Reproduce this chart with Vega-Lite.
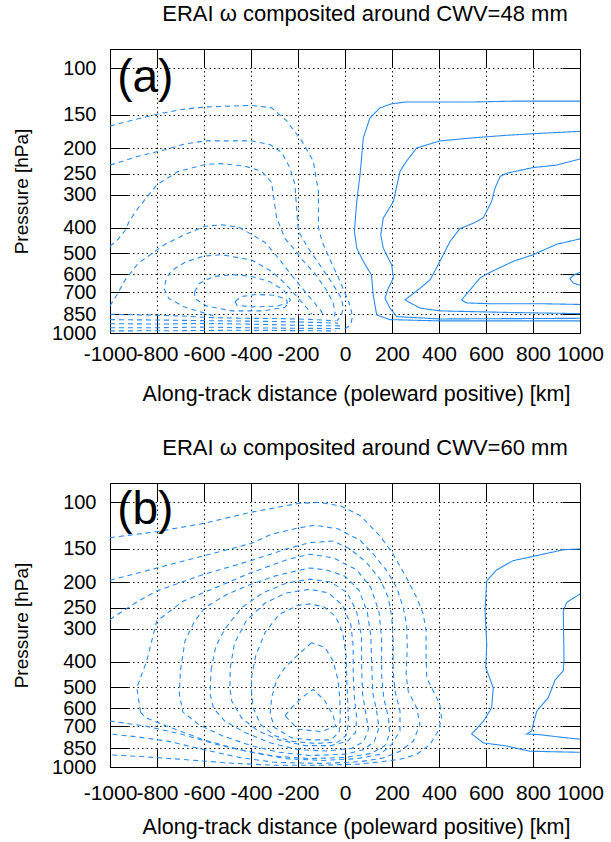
{
"$schema":"https://vega.github.io/schema/vega-lite/v6.json",
"background":"white",
"padding":{"left":12,"top":2,"right":5,"bottom":2},
"config":{"font":"Liberation Sans","view":{"stroke":"#000","strokeWidth":1},"title":{"fontSize":22,"fontWeight":"normal","color":"#000"}},
"bounds":"flush",
"spacing":150,
"datasets":{
"a":[
{"c":"A1","s":"n","x":-1000,"p":165},{"c":"A1","s":"n","x":-880,"p":155},{"c":"A1","s":"n","x":-800,"p":149},{"c":"A1","s":"n","x":-695,"p":143},{"c":"A1","s":"n","x":-600,"p":140},{"c":"A1","s":"n","x":-400,"p":138},{"c":"A1","s":"n","x":-312,"p":141},{"c":"A1","s":"n","x":-248,"p":158},{"c":"A1","s":"n","x":-184,"p":188},{"c":"A1","s":"n","x":-135,"p":224},{"c":"A1","s":"n","x":-113,"p":292},{"c":"A1","s":"n","x":-113,"p":400},{"c":"A1","s":"n","x":-98,"p":450},{"c":"A1","s":"n","x":-64,"p":528},{"c":"A1","s":"n","x":-30,"p":612},{"c":"A1","s":"n","x":-5,"p":690},{"c":"A1","s":"n","x":15,"p":760},{"c":"A1","s":"n","x":28,"p":830},{"c":"A1","s":"n","x":30,"p":880},{"c":"A1","s":"n","x":25,"p":925},{"c":"A1","s":"n","x":8,"p":955},{"c":"A1","s":"n","x":-10,"p":970},
{"c":"A2","s":"n","x":-1000,"p":232},{"c":"A2","s":"n","x":-880,"p":215},{"c":"A2","s":"n","x":-766,"p":203},{"c":"A2","s":"n","x":-681,"p":193},{"c":"A2","s":"n","x":-596,"p":188},{"c":"A2","s":"n","x":-397,"p":188},{"c":"A2","s":"n","x":-319,"p":194},{"c":"A2","s":"n","x":-269,"p":208},{"c":"A2","s":"n","x":-234,"p":238},{"c":"A2","s":"n","x":-213,"p":275},{"c":"A2","s":"n","x":-206,"p":338},{"c":"A2","s":"n","x":-199,"p":410},{"c":"A2","s":"n","x":-165,"p":465},{"c":"A2","s":"n","x":-106,"p":555},{"c":"A2","s":"n","x":-51,"p":655},{"c":"A2","s":"n","x":-15,"p":740},{"c":"A2","s":"n","x":-8,"p":800},{"c":"A2","s":"n","x":-15,"p":860},{"c":"A2","s":"n","x":-35,"p":900},
{"c":"A3","s":"n","x":-1000,"p":470},{"c":"A3","s":"n","x":-966,"p":443},{"c":"A3","s":"n","x":-936,"p":410},{"c":"A3","s":"n","x":-915,"p":374},{"c":"A3","s":"n","x":-880,"p":337},{"c":"A3","s":"n","x":-800,"p":275},{"c":"A3","s":"n","x":-709,"p":245},{"c":"A3","s":"n","x":-596,"p":231},{"c":"A3","s":"n","x":-532,"p":229},{"c":"A3","s":"n","x":-426,"p":234},{"c":"A3","s":"n","x":-354,"p":245},{"c":"A3","s":"n","x":-312,"p":270},{"c":"A3","s":"n","x":-302,"p":314},{"c":"A3","s":"n","x":-291,"p":367},{"c":"A3","s":"n","x":-269,"p":410},{"c":"A3","s":"n","x":-255,"p":440},{"c":"A3","s":"n","x":-226,"p":470},{"c":"A3","s":"n","x":-183,"p":528},{"c":"A3","s":"n","x":-128,"p":596},{"c":"A3","s":"n","x":-80,"p":685},{"c":"A3","s":"n","x":-50,"p":770},{"c":"A3","s":"n","x":-42,"p":850},{"c":"A3","s":"n","x":-55,"p":895},
{"c":"A4","s":"n","x":-1000,"p":790},{"c":"A4","s":"n","x":-971,"p":718},{"c":"A4","s":"n","x":-936,"p":631},{"c":"A4","s":"n","x":-880,"p":545},{"c":"A4","s":"n","x":-766,"p":462},{"c":"A4","s":"n","x":-681,"p":424},{"c":"A4","s":"n","x":-596,"p":395},{"c":"A4","s":"n","x":-525,"p":390},{"c":"A4","s":"n","x":-454,"p":398},{"c":"A4","s":"n","x":-397,"p":424},{"c":"A4","s":"n","x":-340,"p":455},{"c":"A4","s":"n","x":-284,"p":520},{"c":"A4","s":"n","x":-227,"p":605},{"c":"A4","s":"n","x":-170,"p":698},{"c":"A4","s":"n","x":-130,"p":770},{"c":"A4","s":"n","x":-100,"p":830},{"c":"A4","s":"n","x":-90,"p":870},
{"c":"A5","s":"n","x":-560,"p":860},{"c":"A5","s":"n","x":-680,"p":800},{"c":"A5","s":"n","x":-750,"p":740},{"c":"A5","s":"n","x":-770,"p":680},{"c":"A5","s":"n","x":-760,"p":620},{"c":"A5","s":"n","x":-737,"p":580},{"c":"A5","s":"n","x":-681,"p":540},{"c":"A5","s":"n","x":-600,"p":512},{"c":"A5","s":"n","x":-525,"p":506},{"c":"A5","s":"n","x":-397,"p":530},{"c":"A5","s":"n","x":-312,"p":585},{"c":"A5","s":"n","x":-255,"p":650},{"c":"A5","s":"n","x":-210,"p":720},{"c":"A5","s":"n","x":-170,"p":790},{"c":"A5","s":"n","x":-140,"p":850},
{"c":"A6","s":"n","x":-640,"p":700},{"c":"A6","s":"n","x":-620,"p":650},{"c":"A6","s":"n","x":-560,"p":612},{"c":"A6","s":"n","x":-480,"p":602},{"c":"A6","s":"n","x":-400,"p":610},{"c":"A6","s":"n","x":-320,"p":640},{"c":"A6","s":"n","x":-260,"p":690},{"c":"A6","s":"n","x":-232,"p":750},{"c":"A6","s":"n","x":-255,"p":800},{"c":"A6","s":"n","x":-350,"p":825},{"c":"A6","s":"n","x":-480,"p":825},{"c":"A6","s":"n","x":-590,"p":790},{"c":"A6","s":"n","x":-640,"p":740},{"c":"A6","s":"n","x":-640,"p":700},
{"c":"A7","s":"n","x":-468,"p":760},{"c":"A7","s":"n","x":-440,"p":728},{"c":"A7","s":"n","x":-380,"p":715},{"c":"A7","s":"n","x":-300,"p":720},{"c":"A7","s":"n","x":-250,"p":745},{"c":"A7","s":"n","x":-245,"p":770},{"c":"A7","s":"n","x":-290,"p":792},{"c":"A7","s":"n","x":-400,"p":797},{"c":"A7","s":"n","x":-460,"p":785},{"c":"A7","s":"n","x":-468,"p":760},
{"c":"B1","s":"n","x":-1000,"p":850},{"c":"B1","s":"n","x":-850,"p":855},{"c":"B1","s":"n","x":-700,"p":862},{"c":"B1","s":"n","x":-560,"p":875},{"c":"B1","s":"n","x":-420,"p":880},{"c":"B1","s":"n","x":-280,"p":882},{"c":"B1","s":"n","x":-150,"p":888},{"c":"B1","s":"n","x":-40,"p":900},
{"c":"B2","s":"n","x":-1000,"p":890},{"c":"B2","s":"n","x":-800,"p":893},{"c":"B2","s":"n","x":-600,"p":898},{"c":"B2","s":"n","x":-400,"p":902},{"c":"B2","s":"n","x":-200,"p":908},{"c":"B2","s":"n","x":-30,"p":918},
{"c":"B3","s":"n","x":-1000,"p":922},{"c":"B3","s":"n","x":-800,"p":925},{"c":"B3","s":"n","x":-600,"p":920},{"c":"B3","s":"n","x":-400,"p":926},{"c":"B3","s":"n","x":-200,"p":935},{"c":"B3","s":"n","x":-20,"p":940},
{"c":"B4","s":"n","x":-1000,"p":955},{"c":"B4","s":"n","x":-800,"p":955},{"c":"B4","s":"n","x":-600,"p":950},{"c":"B4","s":"n","x":-400,"p":956},{"c":"B4","s":"n","x":-200,"p":960},{"c":"B4","s":"n","x":-20,"p":962},
{"c":"B5","s":"n","x":-1000,"p":982},{"c":"B5","s":"n","x":-700,"p":980},{"c":"B5","s":"n","x":-450,"p":976},{"c":"B5","s":"n","x":-250,"p":979},{"c":"B5","s":"n","x":-40,"p":982},
{"c":"S1","s":"p","x":1000,"p":133},{"c":"S1","s":"p","x":830,"p":133},{"c":"S1","s":"p","x":716,"p":133},{"c":"S1","s":"p","x":546,"p":134},{"c":"S1","s":"p","x":404,"p":134},{"c":"S1","s":"p","x":262,"p":134},{"c":"S1","s":"p","x":199,"p":136},{"c":"S1","s":"p","x":149,"p":141},{"c":"S1","s":"p","x":106,"p":154},{"c":"S1","s":"p","x":78,"p":183},{"c":"S1","s":"p","x":64,"p":252},{"c":"S1","s":"p","x":50,"p":318},{"c":"S1","s":"p","x":40,"p":413},{"c":"S1","s":"p","x":50,"p":478},{"c":"S1","s":"p","x":78,"p":536},{"c":"S1","s":"p","x":113,"p":605},{"c":"S1","s":"p","x":120,"p":718},{"c":"S1","s":"p","x":135,"p":855},{"c":"S1","s":"p","x":191,"p":890},{"c":"S1","s":"p","x":404,"p":900},{"c":"S1","s":"p","x":1000,"p":900},
{"c":"S2","s":"p","x":1000,"p":173},{"c":"S2","s":"p","x":830,"p":176},{"c":"S2","s":"p","x":688,"p":179},{"c":"S2","s":"p","x":546,"p":183},{"c":"S2","s":"p","x":404,"p":188},{"c":"S2","s":"p","x":305,"p":200},{"c":"S2","s":"p","x":262,"p":224},{"c":"S2","s":"p","x":234,"p":245},{"c":"S2","s":"p","x":206,"p":318},{"c":"S2","s":"p","x":163,"p":368},{"c":"S2","s":"p","x":152,"p":425},{"c":"S2","s":"p","x":163,"p":478},{"c":"S2","s":"p","x":199,"p":555},{"c":"S2","s":"p","x":206,"p":620},{"c":"S2","s":"p","x":184,"p":678},{"c":"S2","s":"p","x":170,"p":738},{"c":"S2","s":"p","x":191,"p":805},{"c":"S2","s":"p","x":220,"p":867},{"c":"S2","s":"p","x":404,"p":885},{"c":"S2","s":"p","x":1000,"p":880},
{"c":"S3","s":"p","x":1000,"p":220},{"c":"S3","s":"p","x":901,"p":232},{"c":"S3","s":"p","x":801,"p":237},{"c":"S3","s":"p","x":688,"p":249},{"c":"S3","s":"p","x":660,"p":256},{"c":"S3","s":"p","x":638,"p":284},{"c":"S3","s":"p","x":624,"p":318},{"c":"S3","s":"p","x":589,"p":367},{"c":"S3","s":"p","x":546,"p":385},{"c":"S3","s":"p","x":489,"p":403},{"c":"S3","s":"p","x":447,"p":451},{"c":"S3","s":"p","x":404,"p":536},{"c":"S3","s":"p","x":362,"p":630},{"c":"S3","s":"p","x":319,"p":678},{"c":"S3","s":"p","x":255,"p":750},{"c":"S3","s":"p","x":319,"p":805},{"c":"S3","s":"p","x":404,"p":825},{"c":"S3","s":"p","x":688,"p":836},{"c":"S3","s":"p","x":1000,"p":845},
{"c":"S4","s":"p","x":1000,"p":441},{"c":"S4","s":"p","x":901,"p":462},{"c":"S4","s":"p","x":801,"p":506},{"c":"S4","s":"p","x":716,"p":536},{"c":"S4","s":"p","x":617,"p":590},{"c":"S4","s":"p","x":574,"p":620},{"c":"S4","s":"p","x":532,"p":688},{"c":"S4","s":"p","x":496,"p":750},{"c":"S4","s":"p","x":518,"p":770},{"c":"S4","s":"p","x":617,"p":775},{"c":"S4","s":"p","x":830,"p":775},{"c":"S4","s":"p","x":1000,"p":780},
{"c":"S5","s":"p","x":1000,"p":590},{"c":"S5","s":"p","x":972,"p":605},{"c":"S5","s":"p","x":957,"p":624},{"c":"S5","s":"p","x":972,"p":648},{"c":"S5","s":"p","x":1000,"p":660}
],
"b":[
{"c":"C1","s":"n","x":-1000,"p":136},{"c":"C1","s":"n","x":-800,"p":129},{"c":"C1","s":"n","x":-600,"p":120},{"c":"C1","s":"n","x":-400,"p":109},{"c":"C1","s":"n","x":-200,"p":101},{"c":"C1","s":"n","x":-115,"p":100},{"c":"C1","s":"n","x":-20,"p":103},{"c":"C1","s":"n","x":64,"p":112},{"c":"C1","s":"n","x":149,"p":134},{"c":"C1","s":"n","x":205,"p":157},{"c":"C1","s":"n","x":262,"p":193},{"c":"C1","s":"n","x":305,"p":229},{"c":"C1","s":"n","x":333,"p":264},{"c":"C1","s":"n","x":345,"p":306},{"c":"C1","s":"n","x":345,"p":386},{"c":"C1","s":"n","x":348,"p":460},{"c":"C1","s":"n","x":376,"p":517},{"c":"C1","s":"n","x":404,"p":580},{"c":"C1","s":"n","x":411,"p":653},{"c":"C1","s":"n","x":397,"p":731},{"c":"C1","s":"n","x":362,"p":821},{"c":"C1","s":"n","x":305,"p":896},{"c":"C1","s":"n","x":234,"p":935},{"c":"C1","s":"n","x":163,"p":953},{"c":"C1","s":"n","x":60,"p":975},{"c":"C1","s":"n","x":-100,"p":985},{"c":"C1","s":"n","x":-300,"p":985},{"c":"C1","s":"n","x":-500,"p":965},{"c":"C1","s":"n","x":-700,"p":935},{"c":"C1","s":"n","x":-850,"p":915},{"c":"C1","s":"n","x":-1000,"p":900},
{"c":"C2","s":"n","x":-1000,"p":197},{"c":"C2","s":"n","x":-800,"p":177},{"c":"C2","s":"n","x":-600,"p":159},{"c":"C2","s":"n","x":-400,"p":143},{"c":"C2","s":"n","x":-312,"p":132},{"c":"C2","s":"n","x":-200,"p":125},{"c":"C2","s":"n","x":-128,"p":122},{"c":"C2","s":"n","x":-28,"p":126},{"c":"C2","s":"n","x":0,"p":130},{"c":"C2","s":"n","x":64,"p":139},{"c":"C2","s":"n","x":121,"p":157},{"c":"C2","s":"n","x":177,"p":181},{"c":"C2","s":"n","x":220,"p":210},{"c":"C2","s":"n","x":248,"p":250},{"c":"C2","s":"n","x":262,"p":289},{"c":"C2","s":"n","x":265,"p":354},{"c":"C2","s":"n","x":260,"p":447},{"c":"C2","s":"n","x":269,"p":517},{"c":"C2","s":"n","x":305,"p":598},{"c":"C2","s":"n","x":319,"p":690},{"c":"C2","s":"n","x":291,"p":798},{"c":"C2","s":"n","x":234,"p":872},{"c":"C2","s":"n","x":163,"p":925},{"c":"C2","s":"n","x":64,"p":955},{"c":"C2","s":"n","x":-100,"p":970},{"c":"C2","s":"n","x":-300,"p":960},{"c":"C2","s":"n","x":-450,"p":920},{"c":"C2","s":"n","x":-600,"p":860},{"c":"C2","s":"n","x":-750,"p":800},{"c":"C2","s":"n","x":-880,"p":770},{"c":"C2","s":"n","x":-1000,"p":750},
{"c":"C3","s":"n","x":-1000,"p":277},{"c":"C3","s":"n","x":-880,"p":236},{"c":"C3","s":"n","x":-800,"p":216},{"c":"C3","s":"n","x":-600,"p":187},{"c":"C3","s":"n","x":-400,"p":166},{"c":"C3","s":"n","x":-250,"p":150},{"c":"C3","s":"n","x":-150,"p":142},{"c":"C3","s":"n","x":-50,"p":140},{"c":"C3","s":"n","x":21,"p":150},{"c":"C3","s":"n","x":92,"p":169},{"c":"C3","s":"n","x":149,"p":195},{"c":"C3","s":"n","x":184,"p":229},{"c":"C3","s":"n","x":199,"p":272},{"c":"C3","s":"n","x":205,"p":334},{"c":"C3","s":"n","x":205,"p":433},{"c":"C3","s":"n","x":213,"p":517},{"c":"C3","s":"n","x":234,"p":615},{"c":"C3","s":"n","x":234,"p":731},{"c":"C3","s":"n","x":199,"p":821},{"c":"C3","s":"n","x":149,"p":896},{"c":"C3","s":"n","x":50,"p":930},{"c":"C3","s":"n","x":-100,"p":945},{"c":"C3","s":"n","x":-250,"p":930},{"c":"C3","s":"n","x":-400,"p":880},{"c":"C3","s":"n","x":-550,"p":820},{"c":"C3","s":"n","x":-700,"p":750},{"c":"C3","s":"n","x":-850,"p":700},{"c":"C3","s":"n","x":-1000,"p":670},
{"c":"C4","s":"n","x":-870,"p":620},{"c":"C4","s":"n","x":-886,"p":502},{"c":"C4","s":"n","x":-844,"p":398},{"c":"C4","s":"n","x":-801,"p":281},{"c":"C4","s":"n","x":-688,"p":236},{"c":"C4","s":"n","x":-550,"p":210},{"c":"C4","s":"n","x":-404,"p":185},{"c":"C4","s":"n","x":-250,"p":165},{"c":"C4","s":"n","x":-150,"p":157},{"c":"C4","s":"n","x":-50,"p":162},{"c":"C4","s":"n","x":50,"p":180},{"c":"C4","s":"n","x":110,"p":210},{"c":"C4","s":"n","x":145,"p":260},{"c":"C4","s":"n","x":156,"p":330},{"c":"C4","s":"n","x":156,"p":450},{"c":"C4","s":"n","x":165,"p":550},{"c":"C4","s":"n","x":185,"p":650},{"c":"C4","s":"n","x":190,"p":750},{"c":"C4","s":"n","x":170,"p":830},{"c":"C4","s":"n","x":110,"p":890},{"c":"C4","s":"n","x":0,"p":920},{"c":"C4","s":"n","x":-150,"p":930},{"c":"C4","s":"n","x":-300,"p":910},{"c":"C4","s":"n","x":-450,"p":860},{"c":"C4","s":"n","x":-600,"p":790},{"c":"C4","s":"n","x":-760,"p":700},{"c":"C4","s":"n","x":-850,"p":650},{"c":"C4","s":"n","x":-870,"p":620},
{"c":"C5","s":"n","x":-700,"p":430},{"c":"C5","s":"n","x":-681,"p":334},{"c":"C5","s":"n","x":-640,"p":281},{"c":"C5","s":"n","x":-596,"p":250},{"c":"C5","s":"n","x":-500,"p":222},{"c":"C5","s":"n","x":-400,"p":204},{"c":"C5","s":"n","x":-300,"p":190},{"c":"C5","s":"n","x":-200,"p":181},{"c":"C5","s":"n","x":-150,"p":177},{"c":"C5","s":"n","x":-80,"p":180},{"c":"C5","s":"n","x":0,"p":190},{"c":"C5","s":"n","x":60,"p":215},{"c":"C5","s":"n","x":95,"p":260},{"c":"C5","s":"n","x":110,"p":320},{"c":"C5","s":"n","x":114,"p":420},{"c":"C5","s":"n","x":118,"p":520},{"c":"C5","s":"n","x":135,"p":620},{"c":"C5","s":"n","x":145,"p":710},{"c":"C5","s":"n","x":125,"p":800},{"c":"C5","s":"n","x":80,"p":860},{"c":"C5","s":"n","x":0,"p":895},{"c":"C5","s":"n","x":-150,"p":905},{"c":"C5","s":"n","x":-280,"p":880},{"c":"C5","s":"n","x":-400,"p":830},{"c":"C5","s":"n","x":-525,"p":760},{"c":"C5","s":"n","x":-624,"p":690},{"c":"C5","s":"n","x":-690,"p":620},{"c":"C5","s":"n","x":-705,"p":530},{"c":"C5","s":"n","x":-700,"p":430},
{"c":"C6","s":"n","x":-570,"p":430},{"c":"C6","s":"n","x":-550,"p":350},{"c":"C6","s":"n","x":-510,"p":300},{"c":"C6","s":"n","x":-440,"p":250},{"c":"C6","s":"n","x":-350,"p":220},{"c":"C6","s":"n","x":-250,"p":202},{"c":"C6","s":"n","x":-150,"p":195},{"c":"C6","s":"n","x":-60,"p":200},{"c":"C6","s":"n","x":10,"p":220},{"c":"C6","s":"n","x":50,"p":260},{"c":"C6","s":"n","x":70,"p":320},{"c":"C6","s":"n","x":71,"p":430},{"c":"C6","s":"n","x":75,"p":530},{"c":"C6","s":"n","x":90,"p":640},{"c":"C6","s":"n","x":100,"p":720},{"c":"C6","s":"n","x":80,"p":800},{"c":"C6","s":"n","x":30,"p":850},{"c":"C6","s":"n","x":-80,"p":870},{"c":"C6","s":"n","x":-200,"p":860},{"c":"C6","s":"n","x":-320,"p":810},{"c":"C6","s":"n","x":-426,"p":740},{"c":"C6","s":"n","x":-511,"p":672},{"c":"C6","s":"n","x":-560,"p":598},{"c":"C6","s":"n","x":-574,"p":530},{"c":"C6","s":"n","x":-570,"p":430},
{"c":"C7","s":"n","x":-488,"p":420},{"c":"C7","s":"n","x":-470,"p":340},{"c":"C7","s":"n","x":-420,"p":280},{"c":"C7","s":"n","x":-340,"p":240},{"c":"C7","s":"n","x":-250,"p":220},{"c":"C7","s":"n","x":-150,"p":213},{"c":"C7","s":"n","x":-70,"p":220},{"c":"C7","s":"n","x":-10,"p":245},{"c":"C7","s":"n","x":25,"p":290},{"c":"C7","s":"n","x":35,"p":350},{"c":"C7","s":"n","x":35,"p":450},{"c":"C7","s":"n","x":40,"p":550},{"c":"C7","s":"n","x":50,"p":650},{"c":"C7","s":"n","x":45,"p":740},{"c":"C7","s":"n","x":10,"p":800},{"c":"C7","s":"n","x":-60,"p":830},{"c":"C7","s":"n","x":-170,"p":830},{"c":"C7","s":"n","x":-280,"p":790},{"c":"C7","s":"n","x":-369,"p":731},{"c":"C7","s":"n","x":-440,"p":653},{"c":"C7","s":"n","x":-482,"p":563},{"c":"C7","s":"n","x":-490,"p":500},{"c":"C7","s":"n","x":-488,"p":420},
{"c":"C8","s":"n","x":-398,"p":460},{"c":"C8","s":"n","x":-380,"p":380},{"c":"C8","s":"n","x":-340,"p":310},{"c":"C8","s":"n","x":-280,"p":265},{"c":"C8","s":"n","x":-200,"p":245},{"c":"C8","s":"n","x":-150,"p":242},{"c":"C8","s":"n","x":-90,"p":248},{"c":"C8","s":"n","x":-40,"p":270},{"c":"C8","s":"n","x":-10,"p":310},{"c":"C8","s":"n","x":5,"p":380},{"c":"C8","s":"n","x":8,"p":480},{"c":"C8","s":"n","x":12,"p":580},{"c":"C8","s":"n","x":15,"p":680},{"c":"C8","s":"n","x":5,"p":760},{"c":"C8","s":"n","x":-30,"p":805},{"c":"C8","s":"n","x":-120,"p":815},{"c":"C8","s":"n","x":-230,"p":800},{"c":"C8","s":"n","x":-300,"p":760},{"c":"C8","s":"n","x":-360,"p":690},{"c":"C8","s":"n","x":-390,"p":600},{"c":"C8","s":"n","x":-398,"p":520},{"c":"C8","s":"n","x":-398,"p":460},
{"c":"C9","s":"n","x":-142,"p":339},{"c":"C9","s":"n","x":-199,"p":376},{"c":"C9","s":"n","x":-255,"p":420},{"c":"C9","s":"n","x":-291,"p":469},{"c":"C9","s":"n","x":-312,"p":547},{"c":"C9","s":"n","x":-319,"p":632},{"c":"C9","s":"n","x":-298,"p":711},{"c":"C9","s":"n","x":-227,"p":776},{"c":"C9","s":"n","x":-142,"p":790},{"c":"C9","s":"n","x":-60,"p":790},{"c":"C9","s":"n","x":-25,"p":740},{"c":"C9","s":"n","x":-20,"p":650},{"c":"C9","s":"n","x":-22,"p":550},{"c":"C9","s":"n","x":-30,"p":469},{"c":"C9","s":"n","x":-50,"p":398},{"c":"C9","s":"n","x":-85,"p":354},{"c":"C9","s":"n","x":-142,"p":339},
{"c":"C10","s":"n","x":-255,"p":640},{"c":"C10","s":"n","x":-230,"p":600},{"c":"C10","s":"n","x":-184,"p":547},{"c":"C10","s":"n","x":-135,"p":509},{"c":"C10","s":"n","x":-85,"p":563},{"c":"C10","s":"n","x":-50,"p":640},{"c":"C10","s":"n","x":-40,"p":700},{"c":"C10","s":"n","x":-100,"p":735},{"c":"C10","s":"n","x":-200,"p":720},{"c":"C10","s":"n","x":-255,"p":640},
{"c":"T1","s":"p","x":1000,"p":150},{"c":"T1","s":"p","x":929,"p":151},{"c":"T1","s":"p","x":801,"p":160},{"c":"T1","s":"p","x":716,"p":166},{"c":"T1","s":"p","x":645,"p":180},{"c":"T1","s":"p","x":603,"p":198},{"c":"T1","s":"p","x":596,"p":257},{"c":"T1","s":"p","x":603,"p":344},{"c":"T1","s":"p","x":599,"p":421},{"c":"T1","s":"p","x":631,"p":502},{"c":"T1","s":"p","x":624,"p":598},{"c":"T1","s":"p","x":589,"p":672},{"c":"T1","s":"p","x":539,"p":750},{"c":"T1","s":"p","x":589,"p":811},{"c":"T1","s":"p","x":688,"p":833},{"c":"T1","s":"p","x":787,"p":872},{"c":"T1","s":"p","x":1000,"p":880},
{"c":"T2","s":"p","x":1000,"p":222},{"c":"T2","s":"p","x":943,"p":239},{"c":"T2","s":"p","x":929,"p":257},{"c":"T2","s":"p","x":932,"p":397},{"c":"T2","s":"p","x":929,"p":433},{"c":"T2","s":"p","x":894,"p":469},{"c":"T2","s":"p","x":865,"p":547},{"c":"T2","s":"p","x":816,"p":615},{"c":"T2","s":"p","x":801,"p":690},{"c":"T2","s":"p","x":794,"p":731},{"c":"T2","s":"p","x":773,"p":750},{"c":"T2","s":"p","x":830,"p":755},{"c":"T2","s":"p","x":915,"p":771},{"c":"T2","s":"p","x":1000,"p":785}
]
},
"vconcat":[
{
"width":470,"height":284,
"title":{"text":"ERAI ω composited around CWV=48 mm","dx":20,"offset":23},
"data":{"name":"a"},
"layer":[
{"mark":{"type":"line","strokeWidth":1.1,"color":"#2a8cf0"},
"encoding":{
"x":{"field":"x","type":"quantitative","scale":{"domain":[-1000,1000],"nice":false,"zero":false},"title":"Along-track distance (poleward positive) [km]",
"axis":{"orient":"bottom","values":[-1000,-800,-600,-400,-200,0,200,400,600,800,1000],"labelExpr":"'' + datum.value","labelFontSize":21,"titleFontSize":21.5,"titleFontWeight":"normal","titleX":246,"tickSize":-18,"tickColor":"#000","labelPadding":28,"grid":true,"gridColor":"#000","gridDash":[1.5,3],"gridOpacity":0.9,"domain":false,"labelFlush":false,"labelOverlap":false,"labelBound":false,"titlePadding":19,"labelColor":"#000","titleColor":"#000"}},
"y":{"field":"p","type":"quantitative","scale":{"type":"log","domain":[84.5,1000],"reverse":true,"nice":false},"title":"Pressure [hPa]",
"axis":{"orient":"left","values":[100,150,200,250,300,400,500,600,700,850,1000],"labelExpr":"'' + datum.value","labelFontSize":20,"titleFontSize":19,"titleFontWeight":"normal","tickSize":-18,"tickColor":"#000","labelPadding":32,"grid":true,"gridColor":"#000","gridDash":[1.5,3],"gridOpacity":0.9,"domain":false,"labelOverlap":false,"labelBound":false,"labelFlush":false,"titlePadding":20,"labelColor":"#000","titleColor":"#000"}},
"detail":{"field":"c","type":"nominal"},
"strokeDash":{"field":"s","type":"nominal","scale":{"domain":["n","p"],"range":[[5,4],[1,0]]},"legend":null},
"order":{"value":null}
}},
{"mark":{"type":"line","opacity":0},
"encoding":{
"x":{"field":"x","type":"quantitative","axis":{"orient":"top","values":[-800,-600,-400,-200,0,200,400,600,800],"labels":false,"tickSize":-18,"tickColor":"#000","grid":false,"domain":false,"title":null}},
"y":{"field":"p","type":"quantitative","axis":{"orient":"right","values":[100,150,200,250,300,400,500,600,700,850],"labels":false,"tickSize":-18,"tickColor":"#000","grid":false,"domain":false,"title":null}},
"detail":{"field":"c","type":"nominal"}
}},
{"data":{"values":[{"t":"(a)","x":-850,"p":109}]},
"mark":{"type":"text","fontSize":46,"color":"#000","baseline":"middle","align":"center"},
"encoding":{"x":{"field":"x","type":"quantitative","axis":null},"y":{"field":"p","type":"quantitative","axis":null},"text":{"field":"t"}}}
],
"resolve":{"axis":{"x":"independent","y":"independent"}}
},
{
"width":470,"height":284,
"title":{"text":"ERAI ω composited around CWV=60 mm","dx":20,"offset":23},
"data":{"name":"b"},
"layer":[
{"mark":{"type":"line","strokeWidth":1.1,"color":"#2a8cf0"},
"encoding":{
"x":{"field":"x","type":"quantitative","scale":{"domain":[-1000,1000],"nice":false,"zero":false},"title":"Along-track distance (poleward positive) [km]",
"axis":{"orient":"bottom","values":[-1000,-800,-600,-400,-200,0,200,400,600,800,1000],"labelExpr":"'' + datum.value","labelFontSize":21,"titleFontSize":21.5,"titleFontWeight":"normal","titleX":246,"tickSize":-18,"tickColor":"#000","labelPadding":33,"grid":true,"gridColor":"#000","gridDash":[1.5,3],"gridOpacity":0.9,"domain":false,"labelFlush":false,"labelOverlap":false,"labelBound":false,"titlePadding":13,"labelColor":"#000","titleColor":"#000"}},
"y":{"field":"p","type":"quantitative","scale":{"type":"log","domain":[84.5,1000],"reverse":true,"nice":false},"title":"Pressure [hPa]",
"axis":{"orient":"left","values":[100,150,200,250,300,400,500,600,700,850,1000],"labelExpr":"'' + datum.value","labelFontSize":20,"titleFontSize":19,"titleFontWeight":"normal","tickSize":-18,"tickColor":"#000","labelPadding":32,"grid":true,"gridColor":"#000","gridDash":[1.5,3],"gridOpacity":0.9,"domain":false,"labelOverlap":false,"labelBound":false,"labelFlush":false,"titlePadding":20,"labelColor":"#000","titleColor":"#000"}},
"detail":{"field":"c","type":"nominal"},
"strokeDash":{"field":"s","type":"nominal","scale":{"domain":["n","p"],"range":[[5,4],[1,0]]},"legend":null},
"order":{"value":null}
}},
{"mark":{"type":"line","opacity":0},
"encoding":{
"x":{"field":"x","type":"quantitative","axis":{"orient":"top","values":[-800,-600,-400,-200,0,200,400,600,800],"labels":false,"tickSize":-18,"tickColor":"#000","grid":false,"domain":false,"title":null}},
"y":{"field":"p","type":"quantitative","axis":{"orient":"right","values":[100,150,200,250,300,400,500,600,700,850],"labels":false,"tickSize":-18,"tickColor":"#000","grid":false,"domain":false,"title":null}},
"detail":{"field":"c","type":"nominal"}
}},
{"data":{"values":[{"t":"(b)","x":-850,"p":107}]},
"mark":{"type":"text","fontSize":46,"color":"#000","baseline":"middle","align":"center"},
"encoding":{"x":{"field":"x","type":"quantitative","axis":null},"y":{"field":"p","type":"quantitative","axis":null},"text":{"field":"t"}}}
],
"resolve":{"axis":{"x":"independent","y":"independent"}}
}
]
}
